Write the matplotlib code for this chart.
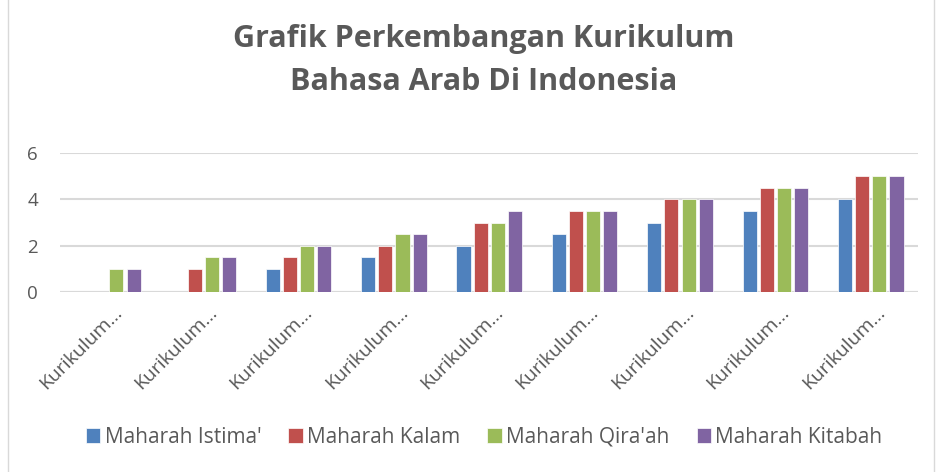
import numpy as np
import matplotlib.pyplot as plt
from matplotlib.patches import Rectangle

# data
kategori = ["Kurikulum…"] * 9
istima = [0, 0, 1, 1.5, 2, 2.5, 3, 3.5, 4]
kalam = [0, 1, 1.5, 2, 3, 3.5, 4, 4.5, 5]
qiraah = [1, 1.5, 2, 2.5, 3, 3.5, 4, 4.5, 5]
kitabah = [1, 1.5, 2, 2.5, 3.5, 3.5, 4, 4.5, 5]

seri = [
    ("Maharah Istima'", istima, "#4F81BD"),
    ("Maharah Kalam", kalam, "#C0504D"),
    ("Maharah Qira'ah", qiraah, "#9BBB59"),
    ("Maharah Kitabah", kitabah, "#8064A2"),
]

plt.rcParams['font.family'] = ['Open Sans', 'DejaVu Sans']
abu = "#595959"

fig = plt.figure(figsize=(9.4, 4.72), dpi=100)
ax = fig.add_axes([0.064, 0.381, 0.913, 0.295])

x = np.arange(len(kategori))
lebar = 0.148
jarak = 0.18
for i, (nama, nilai, warna) in enumerate(seri):
    ax.bar(x + (i - 1.5) * jarak, nilai, lebar, color=warna, label=nama,
           edgecolor="white", linewidth=0.5, zorder=3)

ax.set_xlim(-0.5, len(kategori) - 0.5)
ax.set_ylim(0, 6)
ax.set_yticks([0, 2, 4, 6])
ax.grid(axis="y", color="#d9d9d9", linewidth=1.5, zorder=0)
for s in ax.spines.values():
    s.set_visible(False)
ax.axhline(0, color="#d9d9d9", linewidth=1.5, zorder=1)
ax.tick_params(axis="both", length=0, labelsize=13.5, labelcolor=abu)
ax.tick_params(axis="y", pad=16)
ax.tick_params(axis="x", pad=8)
ax.set_xticks(x + 0.05)
ax.set_xticklabels(kategori, rotation=45, ha="right", rotation_mode="anchor",
                   fontsize=14, color=abu)

fig.text(0.515, 0.918, "Grafik Perkembangan Kurikulum", ha="center", va="center",
         fontsize=22, fontweight="bold", color=abu)
fig.text(0.515, 0.826, "Bahasa Arab Di Indonesia", ha="center", va="center",
         fontsize=22, fontweight="bold", color=abu)

fig.legend(loc="center", bbox_to_anchor=(0.515, 0.074), ncol=4, frameon=False,
           fontsize=15, labelcolor=abu, handlelength=0.7, handleheight=0.7,
           handletextpad=0.2, columnspacing=1.3)

fig.patches.append(Rectangle((0.009, -0.01), 0.985, 1.02, transform=fig.transFigure,
                             fill=False, edgecolor="#d9d9d9", linewidth=1))

fig.savefig("out.png", dpi=100, facecolor="white")
